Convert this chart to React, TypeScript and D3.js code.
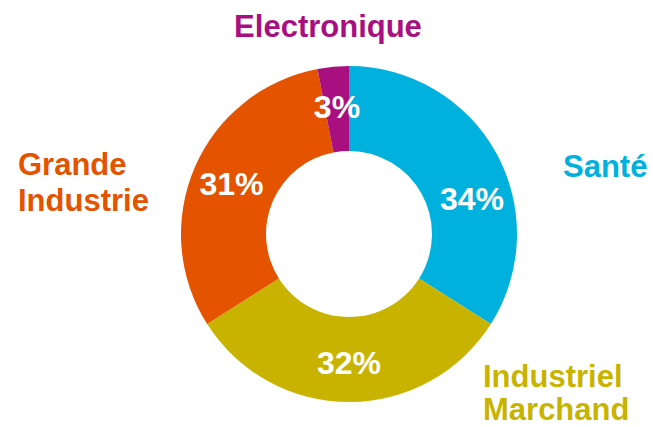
import React, { useEffect, useRef } from 'react'
import * as d3 from 'd3'

const categories = ['Santé', 'Industriel Marchand', 'Grande Industrie', 'Electronique']
const values = [34, 32, 31, 3]
const colors = ['#00B1DD', '#C8B400', '#E35300', '#A8107F']

const W = 653
const H = 427

export default function App() {
  const ref = useRef<SVGSVGElement | null>(null)

  useEffect(() => {
    const svg = d3.select(ref.current)
    svg.selectAll('*').remove()

    const cx = 349
    const cy = 234
    const outer = 168
    const inner = 83

    const pie = d3.pie<number>().sort(null).value((d) => d)
    const arcs = pie(values)
    const arc = d3.arc<d3.PieArcDatum<number>>().innerRadius(inner).outerRadius(outer)

    const g = svg.append('g').attr('transform', `translate(${cx}, ${cy})`)

    g.selectAll('path')
      .data(arcs).enter()
      .append('path')
      .attr('d', arc)
      .attr('fill', (d, i) => colors[i])

    // percentage labels, Santé one sits a bit lower like in the original
    const shift = [0.22, 0, 0, 0]
    g.selectAll('text.pct')
      .data(arcs).enter()
      .append('text')
      .attr('class', 'pct')
      .attr('x', (d, i) => 128 * Math.sin((d.startAngle + d.endAngle) / 2 + shift[i]))
      .attr('y', (d, i) => -128 * Math.cos((d.startAngle + d.endAngle) / 2 + shift[i]))
      .attr('dy', '0.36em')
      .attr('text-anchor', 'middle')
      .attr('fill', '#fff')
      .attr('font-size', 32)
      .attr('font-weight', 'bold')
      .text((d) => `${d.data}%`)

    // category labels around the ring
    const lab = svg.append('g')
      .attr('font-family', '"Liberation Sans", Arial, sans-serif')
      .attr('font-weight', 'bold')
      .attr('font-size', 31)

    const place = [
      { x: 563, y: 177, anchor: 'start', lines: ['Santé'] },
      { x: 483, y: 387, anchor: 'start', lines: ['Industriel', 'Marchand'] },
      { x: 18, y: 175, anchor: 'start', lines: ['Grande', 'Industrie'] },
      { x: 328, y: 37, anchor: 'middle', lines: ['Electronique'] },
    ]
    place.forEach((p, i) => {
      const t = lab.append('text')
        .attr('x', p.x)
        .attr('y', p.y)
        .attr('text-anchor', p.anchor)
        .attr('fill', colors[i])
      p.lines.forEach((l, j) => {
        t.append('tspan').attr('x', p.x).attr('dy', j === 0 ? 0 : (i === 1 ? 33 : 36)).text(l)
      })
    })
  }, [])

  return (
    <svg
      ref={ref}
      width={W}
      height={H}
      style={{ position: 'absolute', left: 0, top: 0, background: '#fff', fontFamily: '"Liberation Sans", Arial, sans-serif' }}
    />
  )
}
